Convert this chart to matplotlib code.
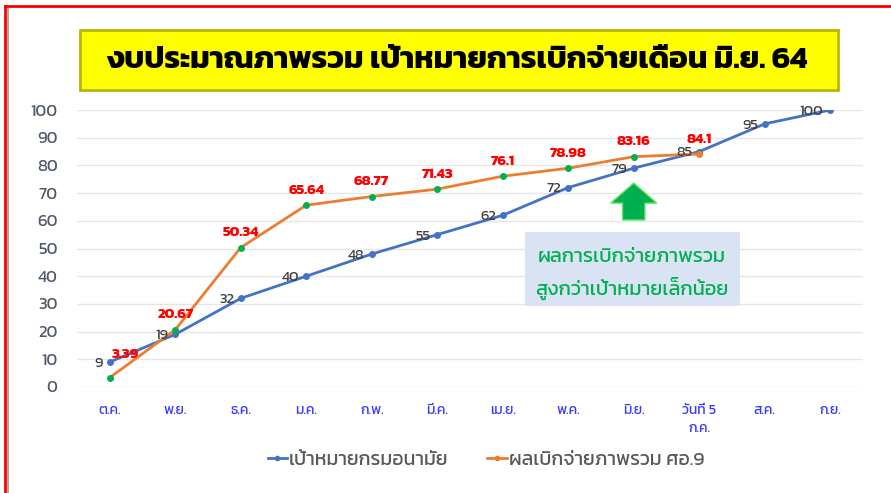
import matplotlib
matplotlib.use("Agg")
import matplotlib.pyplot as plt
from matplotlib import font_manager
from matplotlib.ft2font import FT2Font
from matplotlib.patches import Rectangle, FancyArrow
from matplotlib.lines import Line2D

# ---- data ----
months = ["ต.ค.", "พ.ย.", "ธ.ค.", "ม.ค.", "ก.พ.", "มี.ค.", "เม.ย.", "พ.ค.",
          "มิ.ย.", "วันที่ 5\nก.ค.", "ส.ค.", "ก.ย."]
target = [9, 19, 32, 40, 48, 55, 62, 72, 79, 85, 95, 100]
actual = [3.39, 20.67, 50.34, 65.64, 68.77, 71.43, 76.1, 78.98, 83.16, 84.1]
target_name = "เป้าหมายกรมอนามัย"
actual_name = "ผลเบิกจ่ายภาพรวม ศอ.9"
title = "งบประมาณภาพรวม เป้าหมายการเบิกจ่ายเดือน มิ.ย. 64"
note = "ผลการเบิกจ่ายภาพรวม\nสูงกว่าเป้าหมายเล็กน้อย"


def thai_family():
    names = []
    for f in font_manager.fontManager.ttflist:
        try:
            if 0x0E01 in FT2Font(f.fname).get_charmap():
                names.append(f.name)
        except Exception:
            pass
    for pref in ("Kanit", "Prompt", "Noto Sans Thai", "Noto Sans Thai Looped",
                 "Sarabun", "Loma", "Garuda", "Tlwg Typo", "Waree"):
        if pref in names:
            return pref
    return names[0] if names else "DejaVu Sans"


fam = [thai_family(), "DejaVu Sans"]
plt.rcParams["font.family"] = fam

BLUE = "#4472c4"
ORANGE = "#ed7d31"
GREEN = "#00b050"
GREY = "#595959"

fig = plt.figure(figsize=(8.91, 4.93), dpi=100)
ax = fig.add_axes([77 / 891, 1 - 387 / 493, (863 - 77) / 891, (387 - 110) / 493])

x = list(range(len(months)))
xa = x[:len(actual)]

ax.plot(x, target, color=BLUE, lw=2, marker="o", ms=4, zorder=3)
ax.plot(xa, actual, color=ORANGE, lw=2, zorder=3)
ax.plot(xa[:-1], actual[:-1], "o", color=GREEN, ms=4, zorder=4)
ax.plot(xa[-1], actual[-1], "o", color=ORANGE, ms=4, zorder=4)

for xi, v in zip(x, target):
    ax.annotate(str(v), (xi, v), xytext=(-5, -1), textcoords="offset points",
                ha="right", va="center", fontsize=10.5, color="#404040")
for i, (xi, v) in enumerate(zip(xa, actual)):
    if i == 0:
        off, ha = (1, 12), "left"
    else:
        off, ha = (0, 6), "center"
    ax.annotate(f"{v:g}", (xi, v), xytext=off, textcoords="offset points",
                ha=ha, va="bottom", fontsize=10.5, color="red",
                fontweight="bold")

ax.set_xlim(-0.5, len(months) - 0.5)
ax.set_ylim(0, 100)
ax.set_yticks(range(0, 101, 10))
ax.set_xticks(x)
ax.set_xticklabels(months, color="#3b3bff", fontsize=10, linespacing=1.5)
ax.tick_params(axis="y", colors="#4f5a68", labelsize=12, length=0, pad=14)
ax.tick_params(axis="x", length=0, pad=12)
ax.grid(axis="y", color="#e6e6e6", lw=1)
for s in ax.spines.values():
    s.set_visible(False)

# arrow + note box
ax.add_patch(FancyArrow(8, 60.3, 0, 6.1, width=0.34, head_width=0.7,
                        head_length=7.2, length_includes_head=False,
                        color=GREEN, ec="#5fe05f", lw=1, zorder=5))
fig.patches.append(Rectangle((525 / 891, 1 - 306 / 493), 215 / 891, 74 / 493,
                             transform=fig.transFigure, fc="#dae3f3",
                             ec="none", zorder=5))
fig.text(632 / 891, 1 - 274 / 493, note, ha="center", va="center",
         color=GREEN, fontsize=14.5, linespacing=1.6, zorder=6)

# title box
fig.patches.append(Rectangle((80 / 891, 1 - 90 / 493), 758 / 891, 60 / 493,
                             transform=fig.transFigure, fc="#ffff00",
                             ec="#b8b800", lw=2, zorder=5))
fig.text(457 / 891, 1 - 61 / 493, title, ha="center", va="center",
         fontsize=22.5, fontweight="bold", color="black", zorder=6)

# frame lines
fig.add_artist(Line2D([5 / 891, 5 / 891], [0, 1 - 6 / 493], color="red", lw=2))
fig.add_artist(Line2D([5 / 891, 1], [1 - 6 / 493, 1 - 6 / 493], color="red", lw=2))
fig.add_artist(Line2D([8 / 891, 8 / 891], [0, 1 - 9 / 493], color="#aaaaaa", lw=1.5))

# legend
h1 = Line2D([], [], color=BLUE, marker="o", ms=3, lw=2)
h2 = Line2D([], [], color=ORANGE, marker="o", ms=3, lw=2)
fig.legend([h1, h2], [target_name, actual_name], loc="center",
           bbox_to_anchor=(486 / 891, 1 - 460 / 493), ncol=2, frameon=False,
           fontsize=14, labelcolor=GREY, handlelength=1.0, handletextpad=0.1,
           columnspacing=2.0)

fig.savefig("out.png", dpi=100)
